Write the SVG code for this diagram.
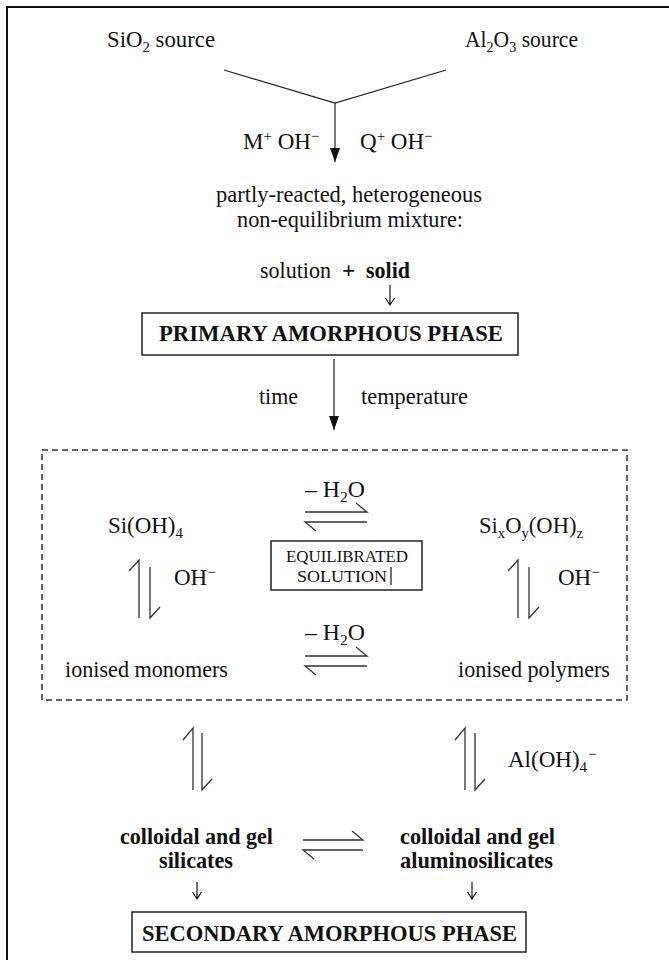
<svg xmlns="http://www.w3.org/2000/svg" width="669" height="960" viewBox="0 0 669 960">
<defs>
<style>
.t{font-family:"Liberation Serif","Times New Roman",serif;font-size:23px;fill:#111}
.b{font-weight:bold}
.s{font-size:15px}
.frame{stroke:#111;stroke-width:2;fill:none}
.ln{stroke:#222;stroke-width:1.2;fill:none}
.hp{stroke:#333;stroke-width:1.3;fill:none}
.da{stroke:#111;stroke-width:1.2;fill:none}
.box{stroke:#222;stroke-width:1.5;fill:none}
.dash{stroke:#333;stroke-width:1.5;fill:none;stroke-dasharray:6 4}
</style>
<marker id="ah" viewBox="0 0 14 10" refX="14" refY="5" markerWidth="14" markerHeight="10" markerUnits="userSpaceOnUse" orient="auto">
<path d="M0,0 L14,5 L0,10 z" fill="#111"/>
</marker>
</defs>
<rect width="669" height="960" fill="#fff"/>
<path class="frame" d="M7,960 V7 H669"/>

<g id="sio2"><text class="t" x="107" y="47" textLength="108" lengthAdjust="spacingAndGlyphs">SiO<tspan class="s" dy="5">2</tspan><tspan dy="-5"> source</tspan></text></g>
<g id="al2o3"><text class="t" x="465" y="47" textLength="113" lengthAdjust="spacingAndGlyphs">Al<tspan class="s" dy="5">2</tspan><tspan dy="-5">O</tspan><tspan class="s" dy="5">3</tspan><tspan dy="-5"> source</tspan></text></g>
<g id="reagents">
<text class="t" x="243" y="149">M<tspan class="s" dy="-8">+</tspan><tspan dy="8"> OH</tspan><tspan class="s" dy="-8">−</tspan></text>
<text class="t" x="360" y="149">Q<tspan class="s" dy="-8">+</tspan><tspan dy="8"> OH</tspan><tspan class="s" dy="-8">−</tspan></text>
</g>
<g id="mixture">
<text class="t" x="216" y="202" textLength="266" lengthAdjust="spacingAndGlyphs">partly-reacted, heterogeneous</text>
<text class="t" x="237" y="227" textLength="226" lengthAdjust="spacingAndGlyphs">non-equilibrium mixture:</text>
<text class="t" x="260" y="278" textLength="71" lengthAdjust="spacingAndGlyphs">solution</text>
<text class="t b" x="342" y="278">+</text>
<text class="t b" x="366" y="278" textLength="44" lengthAdjust="spacingAndGlyphs">solid</text>
</g>
<g id="primary">
<rect class="box" x="142" y="313" width="376" height="42"/>
<text class="t b" x="159" y="341" textLength="344" lengthAdjust="spacingAndGlyphs">PRIMARY AMORPHOUS PHASE</text>
</g>
<g id="conditions">
<text class="t" x="259" y="404" textLength="39" lengthAdjust="spacingAndGlyphs">time</text>
<text class="t" x="361" y="404" textLength="107" lengthAdjust="spacingAndGlyphs">temperature</text>
</g>
<g id="solution-region">
<rect class="dash" x="42" y="450" width="585" height="250"/>
</g>
<g id="h2o-top"><text class="t" x="305" y="497" textLength="60" lengthAdjust="spacingAndGlyphs">– H<tspan class="s" dy="5">2</tspan><tspan dy="-5">O</tspan></text></g>
<g id="sioh4"><text class="t" x="108" y="533" textLength="75" lengthAdjust="spacingAndGlyphs">Si(OH)<tspan class="s" dy="5">4</tspan></text></g>
<g id="sixoy"><text class="t" x="479" y="533" textLength="104" lengthAdjust="spacingAndGlyphs">Si<tspan class="s" dy="5">x</tspan><tspan dy="-5">O</tspan><tspan class="s" dy="5">y</tspan><tspan dy="-5">(OH)</tspan><tspan class="s" dy="5">z</tspan></text></g>
<g id="oh-left"><text class="t" x="174" y="585">OH<tspan class="s" dy="-8">−</tspan></text></g>
<g id="oh-right"><text class="t" x="558" y="585">OH<tspan class="s" dy="-8">−</tspan></text></g>
<g id="equilibrated">
<rect class="box" x="271" y="541" width="151" height="49" stroke-width="1.3"/>
<text class="t" x="286" y="562" style="font-size:17px" textLength="122" lengthAdjust="spacingAndGlyphs">EQUILIBRATED</text>
<text class="t" x="297" y="582" style="font-size:17px" textLength="90" lengthAdjust="spacingAndGlyphs">SOLUTION</text>
<line x1="391" y1="567" x2="391" y2="585" stroke="#111" stroke-width="1.2"/>
</g>
<g id="h2o-bottom"><text class="t" x="305" y="640" textLength="60" lengthAdjust="spacingAndGlyphs">– H<tspan class="s" dy="5">2</tspan><tspan dy="-5">O</tspan></text></g>
<g id="monomers"><text class="t" x="65" y="677" textLength="163" lengthAdjust="spacingAndGlyphs">ionised monomers</text></g>
<g id="polymers"><text class="t" x="458" y="677" textLength="152" lengthAdjust="spacingAndGlyphs">ionised polymers</text></g>
<g id="aloh4"><text class="t" x="508" y="767">Al(OH)<tspan class="s" dy="5">4</tspan><tspan class="s" dx="1" dy="-13">−</tspan></text></g>
<g id="colloid-si">
<text class="t b" x="120" y="844" textLength="153" lengthAdjust="spacingAndGlyphs">colloidal and gel</text>
<text class="t b" x="159" y="868" textLength="74" lengthAdjust="spacingAndGlyphs">silicates</text>
</g>
<g id="colloid-alsi">
<text class="t b" x="400" y="844" textLength="155" lengthAdjust="spacingAndGlyphs">colloidal and gel</text>
<text class="t b" x="400" y="868" textLength="153" lengthAdjust="spacingAndGlyphs">aluminosilicates</text>
</g>
<g id="secondary">
<rect class="box" x="132" y="912" width="394" height="40"/>
<text class="t b" x="142" y="941" textLength="375" lengthAdjust="spacingAndGlyphs">SECONDARY AMORPHOUS PHASE</text>
</g>

<g id="connectors">
<path class="ln" d="M224,70 L335,103 L446,70"/>
<line class="ln" x1="335" y1="103" x2="335" y2="162" marker-end="url(#ah)"/>
<line class="ln" x1="334" y1="359" x2="334" y2="430" marker-end="url(#ah)"/>
<path class="da" d="M390,285 V305 M385.5,298 L390,305 L394.5,298"/>
<path class="da" d="M197,882 V899 M192.5,892 L197,899 L201.5,892"/>
<path class="da" d="M472,882 V899 M467.5,892 L472,899 L476.5,892"/>
<path class="hp" d="M305,512 H367 L356,503"/>
<path class="hp" d="M367,522 H305 L316,531"/>
<path class="hp" d="M305,656 H367 L356,647"/>
<path class="hp" d="M367,666 H305 L316,675"/>
<path class="hp" d="M139,618 V560 L129,571"/>
<path class="hp" d="M150,567 V618 L160,607"/>
<path class="hp" d="M518,618 V560 L508,571"/>
<path class="hp" d="M529,567 V618 L539,607"/>
<path class="hp" d="M193,790 V728 L183,740"/>
<path class="hp" d="M202,733 V790 L212,779"/>
<path class="hp" d="M465,790 V728 L455,740"/>
<path class="hp" d="M475,733 V790 L485,779"/>
<path class="hp" d="M303,840 H363 L352,831"/>
<path class="hp" d="M363,850 H303 L314,859"/>
</g>
</svg>
